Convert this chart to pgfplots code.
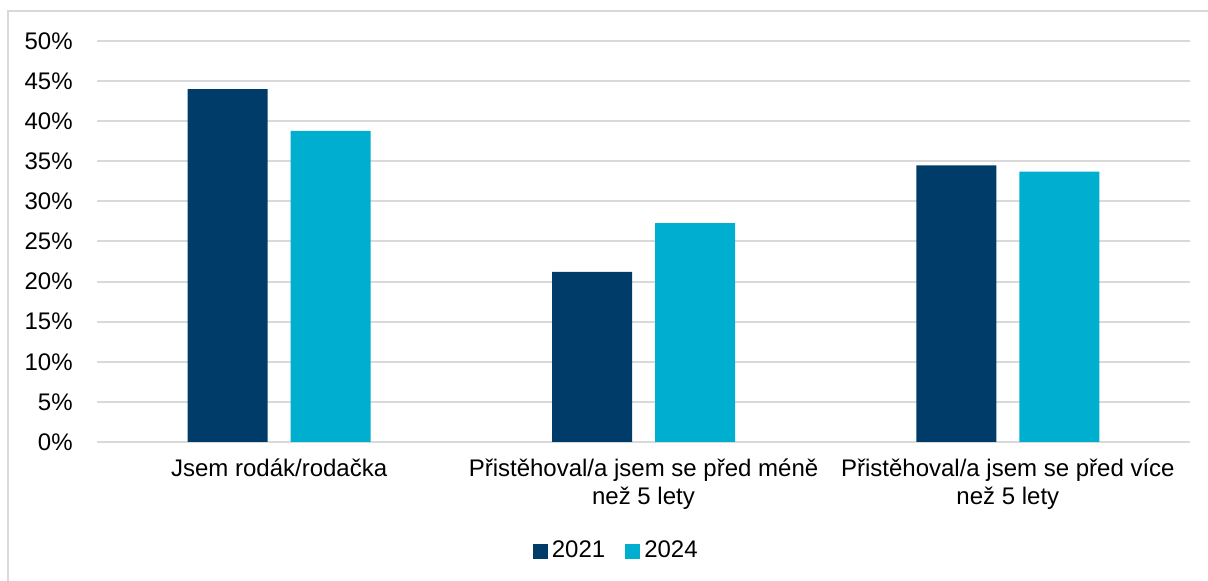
\documentclass[border=0pt]{standalone}
\usepackage{fontspec}
\setmainfont{Liberation Sans}
\usepackage{pgfplots}
\pgfplotsset{compat=1.18}
\definecolor{navy}{HTML}{003C69}
\definecolor{cyanb}{HTML}{00AECF}
\definecolor{gridc}{HTML}{D9D9D9}
\begin{document}
\begin{tikzpicture}
\path[use as bounding box] (-48.5pt,-69.5pt) rectangle (555.5pt,221pt);
\draw[gridc, line width=1pt] (-44.5pt,-69.5pt) -- (-44.5pt,215.5pt) -- (555.5pt,215.5pt);
\begin{axis}[
  at={(0,0)}, anchor=south west,
  scale only axis, width=546.5pt, height=200.5pt,
  ybar=11.5pt, bar width=40pt,
  xmin=-0.5, xmax=2.5, ymin=0, ymax=50,
  xtick={0,1,2},
  xticklabels={{Jsem rodák/rodačka},{Přistěhoval/a jsem se před méně\\než 5 lety},{Přistěhoval/a jsem se před více\\než 5 lety}},
  ytick={0,5,...,50},
  yticklabel={\pgfmathprintnumber{\tick}\%},
  /pgf/number format/assume math mode=true,
  major tick length=0pt,
  ymajorgrids, grid style={gridc, line width=1pt},
  axis line style={draw=none},
  tick label style={font=\fontsize{12}{14}\selectfont, text=black},
  xticklabel style={align=center, anchor=north, inner sep=0pt, yshift=-8pt},
  yticklabel style={anchor=east, inner sep=0pt, xshift=-12pt},
  legend style={at={(0.476,-0.272)}, anchor=center, draw=none, legend columns=2,
    font=\fontsize{12}{14}\selectfont, /tikz/every even column/.append style={column sep=8pt}},
  legend cell align=left,
]
\addplot[fill=navy, draw=none, legend image code/.code={\fill[navy] (0pt,-3.75pt) rectangle (7.5pt,3.75pt);}] coordinates {(0,44.0) (1,21.2) (2,34.5)};
\addplot[fill=cyanb, draw=none, legend image code/.code={\fill[cyanb] (0pt,-3.75pt) rectangle (7.5pt,3.75pt);}] coordinates {(0,38.8) (1,27.3) (2,33.7)};
\legend{2021,2024}
\end{axis}
\end{tikzpicture}
\end{document}
